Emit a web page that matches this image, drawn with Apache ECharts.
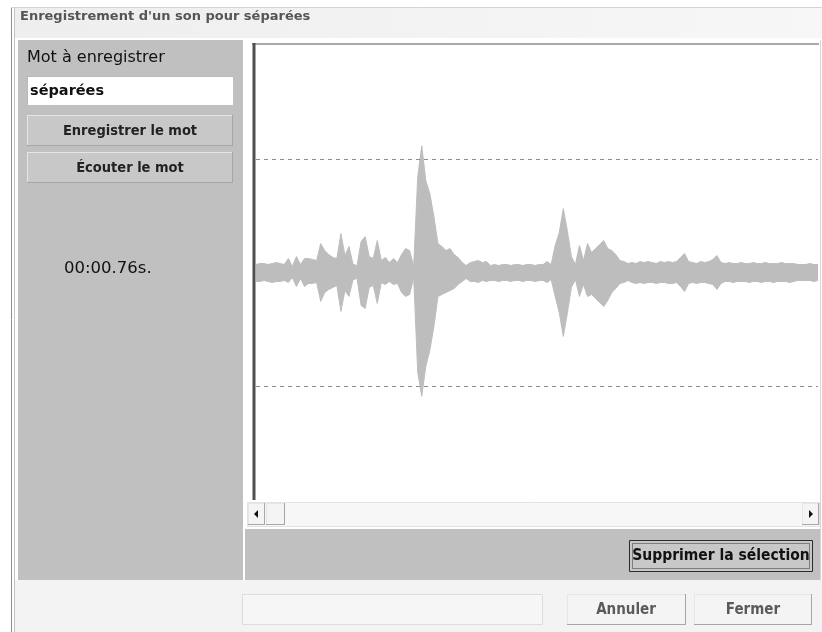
<!DOCTYPE html>
<html>
<head>
<meta charset="utf-8">
<script src="https://cdn.jsdelivr.net/npm/echarts@6/dist/echarts.min.js"></script>
<style>
  html, body { margin: 0; padding: 0; background: #fff; }
  #chart { width: 822px; height: 632px; }
</style>
</head>
<body>
<div id="chart"></div>
<script>
  // amplitude enveloppe, une colonne toutes les ~4px
  var upperPeak = [8, 9, 9, 8, 9, 10, 9, 8, 14, 6, 16, 8, 14, 14, 13, 12, 29, 22, 18, 15,
    14, 39, 17, 26, 8, 7, 31, 36, 16, 14, 32, 12, 15, 10, 14, 10, 18, 24, 22, 6,
    96, 127, 92, 79, 56, 29, 26, 22, 24, 18, 15, 10, 7, 10, 11, 12, 10, 11,
    7, 8, 7, 8, 8, 7, 8, 8, 7, 8, 8, 7, 8, 8,
    11, 8, 27, 40, 64, 42, 16, 8, 27, 12, 29, 20, 24, 28, 32, 24, 22, 18, 12, 11, 9,
    10, 9, 11, 10, 11, 10, 9, 11, 10, 11, 10, 11, 15, 19, 11, 10, 9, 11, 10, 11, 13, 17, 10,
    9, 10, 9, 9, 10, 9, 9, 10, 9, 9, 10, 9, 9, 9, 10, 9, 9, 9,
    8, 8, 8, 9, 8, 8];
  var lowerPeak = [-9, -9, -8, -9, -10, -9, -9, -8, -10, -5, -14, -6, -14, -11, -11, -10, -29, -20, -17, -15,
    -13, -39, -18, -24, -7, -6, -33, -36, -15, -13, -31, -10, -12, -9, -12, -11, -20, -24, -22, -5,
    -100, -124, -94, -78, -54, -24, -22, -20, -18, -16, -12, -9, -6, -9, -9, -10, -8, -9,
    -8, -8, -9, -8, -8, -9, -8, -8, -9, -8, -8, -9, -8, -8,
    -10, -7, -24, -40, -64, -41, -15, -7, -24, -12, -24, -22, -26, -30, -34, -28, -20, -16, -11, -10, -8,
    -10, -11, -10, -11, -10, -10, -11, -10, -10, -11, -11, -10, -14, -19, -11, -10, -11, -10, -10, -11, -12, -17, -11,
    -9, -9, -10, -9, -9, -9, -10, -9, -9, -10, -9, -9, -10, -9, -9, -9, -10, -9,
    -8, -8, -8, -8, -9, -8];
  var samples = upperPeak.map(function (v, i) { return i; });
  var guideLevels = [114, -114];
  var fullScale = 228;

  var WIDE = '"DejaVu Sans", sans-serif';
  var NARROW = '"DejaVu Sans Condensed", "DejaVu Sans", sans-serif';
  var WAVE = '#bdbdbd';

  function box(x, y, w, h, fill, stroke) {
    return { type: 'rect', shape: { x: x, y: y, width: w, height: h }, style: { fill: fill, stroke: stroke || null, lineWidth: 1 }, silent: true };
  }
  function line(x1, y1, x2, y2, color, w, dash) {
    return { type: 'line', shape: { x1: x1, y1: y1, x2: x2, y2: y2 }, style: { stroke: color, lineWidth: w || 1, lineDash: dash || null }, silent: true };
  }
  function label(txt, x, y, font, size, weight, color, align) {
    return {
      type: 'text', x: x, y: y, silent: true,
      style: { text: txt, fontFamily: font, fontSize: size, fontWeight: weight, fill: color, align: align || 'left', verticalAlign: 'middle' }
    };
  }
  // bouton "relief" façon Windows
  function button(x, y, w, h, fill) {
    return [
      box(x, y, w, h, fill),
      line(x, y + 0.5, x + w, y + 0.5, '#e6e6e6'),
      line(x + 0.5, y, x + 0.5, y + h, '#e6e6e6'),
      line(x, y + h - 0.5, x + w, y + h - 0.5, '#a6a6a6'),
      line(x + w - 0.5, y, x + w - 0.5, y + h, '#a6a6a6')
    ];
  }

  var chart = echarts.init(document.getElementById('chart'));

  var decor = [].concat(
    [
      {
        type: 'rect', shape: { x: 14, y: 7, width: 808, height: 31 }, silent: true,
        style: { fill: new echarts.graphic.LinearGradient(0, 0, 1, 0, [{ offset: 0, color: '#eeeeee' }, { offset: 1, color: '#f7f7f7' }]) }
      },
      line(11.5, 7, 11.5, 632, '#8e8e8e'),
      line(14.5, 7, 14.5, 632, '#c4c4c4'),
      line(11, 7.5, 822, 7.5, '#d4d4d4'),
      box(18, 40, 225, 540, '#c0c0c0'),
      box(245, 529, 576, 51, '#c0c0c0'),
      box(15, 580, 807, 52, '#f3f3f3'),
      line(820.5, 40, 820.5, 580, '#d6d6d6'),
      // cadre de l'onde
      line(252, 44, 819, 44, '#a9a9a9', 2),
      line(254, 43, 254, 500, '#505050', 3),
      // barre de défilement
      box(247.5, 502.5, 572, 24, '#f7f7f7', '#e2e2e2')
    ],
    button(248, 503, 17, 22, '#f4f4f4'),
    button(266, 503, 19, 22, '#f4f4f4'),
    button(802, 503, 17, 22, '#f4f4f4'),
    [
      { type: 'polygon', shape: { points: [[254, 514], [258, 510], [258, 518]] }, style: { fill: '#111' }, silent: true },
      { type: 'polygon', shape: { points: [[813, 514], [809, 510], [809, 518]] }, style: { fill: '#111' }, silent: true },
      // champ texte
      box(27, 76, 206, 29, '#ffffff'),
      line(27, 76.5, 233, 76.5, '#b9b9b9'),
      line(27.5, 76, 27.5, 105, '#b9b9b9')
    ],
    button(27, 115, 206, 31, '#c8c8c8'),
    button(27, 152, 206, 31, '#c8c8c8'),
    [
      box(629.5, 540.5, 183, 31, '#c8c8c8', '#2b2b2b'),
      { type: 'rect', shape: { x: 632.5, y: 543.5, width: 177, height: 25 }, style: { fill: null, stroke: '#333', lineWidth: 1, lineDash: [1, 1] }, silent: true },
      box(242.5, 594.5, 300, 30, '#f6f6f6', '#dddddd')
    ],
    button(567, 594, 119, 31, '#f4f4f4'),
    button(694, 594, 118, 31, '#f4f4f4'),
    [
      label("Enregistrement d'un son pour séparées", 20, 17, WIDE, 13, 'bold', '#555555'),
      label('Mot à enregistrer', 27, 58, WIDE, 16, 'normal', '#111111'),
      label('séparées', 30, 91, WIDE, 14.5, 'bold', '#111111'),
      label('Enregistrer le mot', 130, 131, NARROW, 14.5, 'bold', '#222222', 'center'),
      label('Écouter le mot', 130, 168, NARROW, 14.5, 'bold', '#222222', 'center'),
      label('00:00.76s.', 64, 269, WIDE, 16.5, 'normal', '#111111'),
      label('Supprimer la sélection', 721, 556, NARROW, 15.5, 'bold', '#111111', 'center'),
      label('Annuler', 626, 610, NARROW, 15, 'bold', '#5a5a5a', 'center'),
      label('Fermer', 753, 610, NARROW, 15, 'bold', '#5a5a5a', 'center')
    ]
  );

  var option = {
    animation: false,
    backgroundColor: '#ffffff',
    graphic: { elements: decor },
    grid: { left: 256, top: 45, width: 562, height: 455 },
    xAxis: {
      type: 'category',
      data: samples,
      boundaryGap: false,
      show: false
    },
    yAxis: {
      type: 'value',
      min: -fullScale,
      max: fullScale,
      show: false,
      splitLine: { show: false }
    },
    series: [
      {
        name: 'haut',
        type: 'line',
        data: upperPeak,
        symbol: 'none',
        z: 3,
        lineStyle: { color: WAVE, width: 1 },
        areaStyle: { color: WAVE, opacity: 1, origin: 0 },
        markLine: {
          silent: true,
          symbol: 'none',
          label: { show: false },
          lineStyle: { type: [4, 4], color: '#8c8c8c', width: 1 },
          data: guideLevels.map(function (v) { return { yAxis: v }; }).concat([
            // comble le fin liseré entre les deux moitiés de l'onde
            { yAxis: 0, lineStyle: { type: 'solid', color: WAVE, width: 3 } }
          ])
        }
      },
      {
        name: 'bas',
        type: 'line',
        data: lowerPeak,
        symbol: 'none',
        z: 3,
        lineStyle: { color: WAVE, width: 1 },
        areaStyle: { color: WAVE, opacity: 1, origin: 0 }
      }
    ]
  };

  chart.setOption(option);
</script>
</body>
</html>
